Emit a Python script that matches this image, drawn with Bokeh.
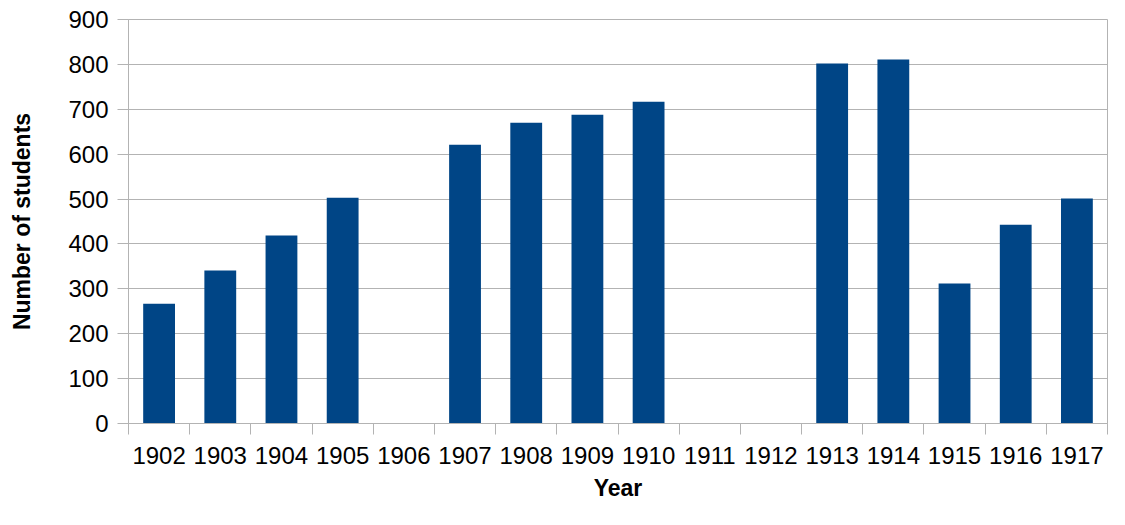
from bokeh.plotting import figure
from bokeh.models import ColumnDataSource, FixedTicker, Range1d
from bokeh.embed import file_html
from bokeh.resources import INLINE

years = ["1902", "1903", "1904", "1905", "1906", "1907", "1908", "1909",
         "1910", "1911", "1912", "1913", "1914", "1915", "1916", "1917"]
students = [267, 341, 419, 503, None, 621, 670, 688,
            717, None, None, 802, 811, 312, 443, 501]
y_ticks = [0, 100, 200, 300, 400, 500, 600, 700, 800, 900]

pos = [i + 0.5 for i in range(len(years))]
tops = [float("nan") if v is None else v for v in students]
src = ColumnDataSource(dict(x=pos, top=tops, year=years))

p = figure(width=1109, height=509, output_backend="svg", toolbar_location=None,
           x_range=Range1d(0, len(years)), y_range=Range1d(0, 900),
           min_border_left=128, min_border_right=2, min_border_top=19,
           min_border_bottom=86)

p.vbar(x="x", top="top", width=0.52, source=src, fill_color="#004586", line_color=None)

GREY = "#b3b3b3"
FONT = "Liberation Sans"

p.outline_line_color = GREY
p.outline_line_width = 1
p.background_fill_color = "white"
p.border_fill_color = "white"

# x axis
xa = p.xaxis[0]
xa.ticker = FixedTicker(ticks=pos, minor_ticks=list(range(len(years) + 1)))
xa.major_label_overrides = {pos[i]: years[i] for i in range(len(years))}
xa.major_tick_line_color = None
xa.minor_tick_line_color = GREY
xa.minor_tick_in = 0
xa.minor_tick_out = 11
xa.minor_tick_line_width = 1
xa.axis_line_color = GREY
xa.axis_line_width = 1
xa.major_label_text_font = FONT
xa.major_label_text_font_size = "24px"
xa.major_label_text_color = "black"
xa.major_label_standoff = 12
xa.axis_label = "Year"
xa.axis_label_text_font = FONT
xa.axis_label_text_font_style = "bold"
xa.axis_label_text_font_size = "23px"
xa.axis_label_text_color = "black"
xa.axis_label_standoff = 8

# y axis
ya = p.yaxis[0]
ya.ticker = FixedTicker(ticks=y_ticks)
ya.major_tick_line_color = GREY
ya.major_tick_in = 0
ya.major_tick_out = 11
ya.minor_tick_line_color = None
ya.axis_line_color = GREY
ya.axis_line_width = 1
ya.major_label_text_font = FONT
ya.major_label_text_font_size = "24px"
ya.major_label_text_color = "black"
ya.major_label_standoff = 9
ya.axis_label = "Number of students"
ya.axis_label_text_font = FONT
ya.axis_label_text_font_style = "bold"
ya.axis_label_text_font_size = "23px"
ya.axis_label_text_color = "black"
ya.axis_label_standoff = 30

p.xgrid.grid_line_color = None
p.ygrid.ticker = FixedTicker(ticks=y_ticks)
p.ygrid.grid_line_color = GREY
p.ygrid.grid_line_width = 1

open("out.html", "w").write(file_html(p, INLINE))
